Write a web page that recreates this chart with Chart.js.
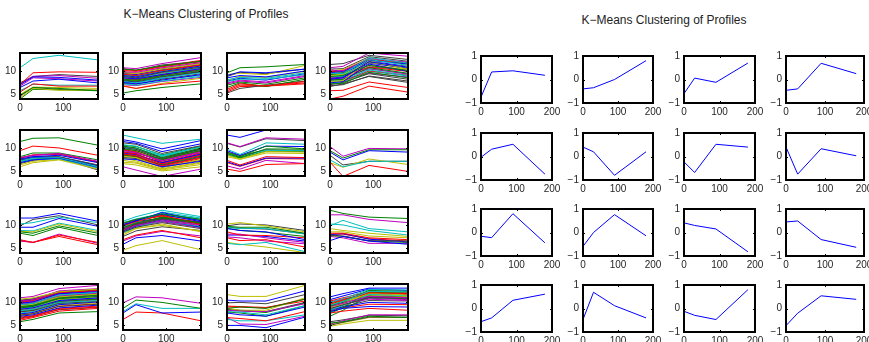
<!DOCTYPE html>
<html>
<head>
<meta charset="utf-8">
<script src="https://cdn.jsdelivr.net/npm/chart.js@4.4.1/dist/chart.umd.min.js"></script>
<style>
  body { margin: 0; background: #fff; width: 869px; height: 342px; position: relative; overflow: hidden; font-family: "Liberation Sans", Arial, sans-serif; }
  canvas { position: absolute; }
  .title { position: absolute; font-size: 12px; color: #222; white-space: nowrap; transform: translateX(-50%); }
</style>
</head>
<body>
<div class="title" style="left:206px;top:7px">K−Means Clustering of Profiles</div>
<div class="title" style="left:664px;top:13px">K−Means Clustering of Profiles</div>
<script>
// sampling times (x values) shared by every profile
const times = [0, 30, 90, 180];

// tick labels
const profileTicksX = [0, 100];
const profileTicksY = [5, 10];
const centroidTicksX = [0, 100, 200];
const centroidTicksY = [-1, 0, 1];

// left panel: expression profiles per cluster, one row per gene (t = 0, 30, 90, 180)
const cluster1 = [
  [7.1,8.8,8.7,8.1],[4.8,6.5,6.3,5.8],[7.1,9.7,9.9,9.8],[10.8,12.8,13.5,12.5],[7.3,8.9,9.1,8.5],
  [4.3,6.3,5.9,6.0],[7.5,8.9,9.3,8.9],[6.5,7.9,8.3,7.5],[4.0,6.1,6.0,5.8],[5.5,7.3,6.8,6.8],
  [5.8,7.2,7.0,7.0],[6.8,8.6,8.4,7.9],[5.0,6.6,6.5,6.3],[4.6,6.5,6.1,5.9]
];
const cluster2 = [
  [8.6,8.4,9.3,10.6],[5.3,5.8,6.5,7.3],[6.8,6.3,7.2,7.9],[7.3,7.0,7.9,8.9],[10.8,10.6,11.7,13.0],
  [6.9,6.3,7.4,8.5],[8.9,8.6,9.8,10.9],[7.6,7.3,8.1,9.3],[10.5,10.3,11.2,12.2],[9.4,9.1,10.2,11.4],
  [7.8,7.5,8.6,9.7],[9.9,9.8,10.8,11.9],[9.7,9.5,10.5,11.6],[8.0,7.7,8.8,9.9],[9.1,8.8,9.9,11.2],
  [8.3,8.1,9.1,10.3],[10.2,10.0,11.0,12.1],[8.8,8.5,9.6,10.7],[7.1,6.9,7.8,8.7],[10.0,9.6,10.7,11.8],
  [7.4,7.2,8.3,9.5],[9.6,9.3,10.4,11.6],[8.1,7.9,8.9,10.0],[8.7,8.3,9.4,10.4],[9.2,9.0,10.0,11.0],
  [8.4,8.2,9.2,10.1],[8.9,8.7,9.6,10.8],[9.8,9.5,10.6,11.3],[7.9,7.7,8.6,9.9],[9.3,9.0,10.1,11.5],
  [10.4,10.2,11.1,12.4],[7.5,7.6,8.4,9.1],[9.5,9.4,10.3,11.4],[8.2,8.0,9.0,10.5],[10.6,10.2,11.4,12.2]
];
const cluster3 = [
  [9.1,9.9,9.7,10.5],[9.7,10.8,11.0,11.5],[6.1,7.3,6.8,7.8],[7.8,8.3,8.3,9.3],[7.5,8.1,7.7,9.1],
  [9.3,9.6,9.3,11.3],[8.9,9.8,9.5,10.5],[8.6,9.1,8.8,10.1],[6.5,7.5,6.7,8.3],[5.8,7.0,6.9,7.5],
  [8.2,8.7,8.5,9.7],[7.3,7.9,7.5,8.9],[8.0,8.9,8.7,10.0],[5.3,6.3,7.0,7.9],[7.9,8.5,8.1,9.5],
  [7.0,7.7,7.2,8.6],[5.5,6.7,6.8,7.3]
];
const cluster4 = [
  [8.3,8.6,12.1,10.9],[8.9,9.1,11.3,10.2],[4.0,4.6,6.8,5.5],[9.6,9.5,13.0,11.8],[10.8,11.1,14.0,13.3],
  [7.8,8.0,12.3,10.5],[11.5,11.7,13.5,12.6],[7.5,7.8,11.6,10.0],[8.1,8.3,10.8,9.6],[5.8,5.9,7.7,6.5],
  [8.8,9.0,12.6,11.3],[10.3,10.1,12.8,12.0],[9.1,9.4,11.9,11.0],[6.9,7.1,9.0,7.9],[9.7,10.0,12.4,11.6],
  [7.3,7.4,9.8,8.6],[9.9,10.2,12.6,11.9],[7.9,8.1,10.3,9.1],[8.6,8.5,10.6,9.4],[10.1,10.4,12.9,11.4],
  [7.1,7.6,9.5,8.3],[8.5,8.8,11.8,10.7],[9.4,9.2,12.0,10.6],[8.0,7.9,10.1,9.2],[7.6,7.7,10.0,9.0],
  [8.2,8.2,9.6,8.8],[9.0,8.9,11.5,10.4],[10.5,10.6,13.2,12.2],[9.3,9.6,12.2,11.1],[10.0,9.8,12.5,11.7],
  [8.7,9.0,10.9,10.0],[7.7,7.9,10.5,9.5],[8.4,8.7,11.0,10.3],[9.5,9.7,11.2,10.1],[6.7,7.3,8.9,7.6]
];
const cluster5 = [
  [7.7,8.2,8.5,6.9],[11.5,12.2,12.3,10.7],[9.5,10.5,10.1,8.5],[7.2,7.9,8.0,6.0],[8.0,8.5,8.9,7.2],
  [6.0,6.9,7.5,5.5],[7.5,8.2,8.2,6.4],[6.9,7.5,7.9,5.9],[8.2,9.0,9.0,7.5],[7.9,8.6,8.8,7.0],
  [7.0,7.6,7.7,5.7],[7.9,8.5,8.7,7.1],[6.4,7.2,7.6,5.8],[6.7,7.4,7.9,5.3],[7.4,8.0,8.1,6.3],
  [7.1,7.7,7.9,6.2]
];
const cluster6 = [
  [11.9,11.4,9.9,11.7],[10.5,10.1,8.0,10.1],[9.2,8.8,6.6,8.5],[12.9,12.3,11.1,12.0],[6.0,5.3,3.9,5.5],
  [6.7,6.4,5.1,6.0],[11.2,10.9,8.9,10.6],[7.7,7.6,6.0,7.2],[9.9,9.5,7.6,9.6],[8.8,8.4,6.2,8.0],
  [10.8,10.5,8.5,10.3],[9.5,9.1,7.3,9.3],[8.3,8.0,5.9,7.6],[10.2,9.8,7.8,9.8],[9.0,8.7,6.9,8.8],
  [8.6,8.2,6.4,8.3],[9.7,9.3,7.0,9.0],[10.0,9.8,8.2,10.4],[9.3,9.0,7.4,9.1],[7.4,7.0,5.5,6.8],
  [8.0,7.8,5.9,7.4],[11.5,11.1,9.3,11.0],[9.1,8.9,7.7,9.9],[8.5,8.1,6.0,7.8],[10.4,10.0,8.4,9.7],
  [8.9,8.4,6.7,8.6],[7.9,7.3,5.6,7.0],[9.6,9.2,7.2,9.4],[8.4,8.3,6.3,8.1],[10.7,10.4,8.6,10.5],
  [9.8,9.6,7.5,9.5],[8.2,7.9,6.5,8.4],[10.3,10.0,7.9,10.0],[7.0,6.8,5.3,6.5],[8.7,8.6,6.8,8.7]
];
const cluster7 = [
  [12.9,12.4,14.0,13.9],[9.1,8.2,10.5,9.9],[7.4,6.4,8.2,8.0],[9.8,8.7,11.2,10.9],[11.2,10.4,12.3,12.0],
  [8.5,7.7,9.3,9.2],[11.1,10.3,12.1,11.7],[9.5,8.5,10.5,10.4],[8.9,8.0,9.9,9.8],[5.5,5.0,6.5,6.7],
  [8.7,8.1,9.6,9.5],[6.2,5.5,7.4,6.7],[8.2,7.6,9.0,8.9],[9.2,8.4,9.7,9.5],[7.1,6.2,7.9,7.9],
  [8.6,7.9,9.4,9.3],[6.9,6.1,7.8,7.7]
];
const cluster8 = [
  [9.2,7.5,9.5,9.2],[9.5,7.9,9.7,9.7],[7.0,3.9,6.3,5.0],[7.5,6.0,7.2,7.2],[10.4,8.3,10.0,9.9],
  [6.9,5.9,7.7,6.5],[8.5,6.4,7.2,7.2]
];
const cluster9 = [
  [11.6,11.6,12.6,10.9],[8.6,8.3,9.9,8.3],[6.9,6.3,7.9,6.3],[10.3,10.6,11.8,10.6],[6.7,6.3,8.1,6.1],
  [8.7,8.6,10.3,8.6],[9.9,11.3,12.1,10.1],[9.6,9.6,11.5,9.8],[8.3,7.8,9.6,7.8],[6.6,6.3,7.6,5.8],
  [8.9,8.8,10.5,8.9]
];
const cluster10 = [
  [5.9,7.3,7.8,6.6],[10.5,11.3,12.5,11.3],[6.9,7.9,8.9,7.3],[10.9,11.9,13.3,11.9],[6.6,7.7,8.7,7.7],
  [4.6,5.6,6.7,4.7],[8.6,9.6,10.6,9.3],[10.2,11.0,12.8,11.0],[9.5,10.5,11.8,10.5],[9.9,10.8,12.2,10.2],
  [9.7,10.6,12.9,11.6],[9.0,10.0,11.0,10.0],[7.9,9.3,10.3,8.6],[9.2,10.2,11.4,10.3],[9.8,11.1,12.4,10.8],
  [8.9,10.1,11.6,10.6],[10.4,11.2,12.0,10.6],[8.4,9.6,11.0,9.8],[9.4,10.6,11.3,10.1],[8.2,9.4,10.0,8.8],
  [9.6,10.4,11.7,10.4],[8.8,9.9,11.2,9.6],[10.1,11.0,12.2,11.1],[9.1,10.3,11.8,10.7],[10.6,11.4,12.6,11.4],
  [8.5,9.8,10.8,9.5],[9.3,10.4,11.1,9.9],[7.6,8.8,9.7,8.9],[10.0,10.9,11.5,10.5],[9.0,10.2,10.9,9.7]
];
const cluster11 = [
  [9.3,8.9,8.6,6.9],[9.8,9.6,9.6,8.3],[8.6,7.9,7.8,7.3],[9.6,9.3,9.3,8.1],[8.1,8.1,7.3,6.3],
  [10.3,10.6,9.9,8.6],[9.9,10.3,10.1,8.9],[7.9,7.9,7.6,6.6],[9.4,8.9,8.5,7.6],[7.3,6.7,6.9,5.3],
  [6.1,5.8,6.3,4.3],[7.5,7.3,6.6,6.0],[6.3,5.9,5.3,4.1],[9.6,9.4,9.2,8.2]
];
const cluster12 = [
  [6.7,7.6,6.6,5.9],[13.3,12.6,11.8,11.5],[8.3,8.3,7.3,6.9],[9.9,11.1,9.3,8.6],[12.3,12.3,11.3,10.6],
  [8.6,8.6,7.7,7.3],[7.9,7.7,6.7,6.6],[8.0,8.2,7.0,6.4],[7.8,7.6,6.6,6.3],[8.1,8.1,7.1,6.6],
  [10.3,10.1,8.9,7.9],[7.6,7.3,6.1,6.1],[9.3,8.9,8.3,7.6]
];
const cluster13 = [
  [8.5,8.8,10.4,11.0],[5.8,6.3,7.7,8.0],[6.1,6.7,8.1,8.7],[9.5,9.8,11.6,12.2],[11.0,11.3,13.0,13.7],
  [10.7,11.0,12.3,12.9],[7.2,7.5,9.1,9.6],[9.8,10.1,11.9,12.3],[8.8,9.1,10.8,11.3],[6.4,6.9,8.5,9.0],
  [8.2,8.5,10.0,10.4],[10.3,10.6,12.5,13.0],[9.3,9.6,11.2,11.8],[8.0,8.2,9.8,10.2],[7.5,7.8,9.5,10.1],
  [9.0,9.3,11.0,11.6],[10.0,10.4,12.1,12.6],[7.7,8.0,9.7,10.3],[9.6,9.9,11.4,12.0],[8.4,8.7,10.6,11.2],
  [10.5,10.8,12.2,12.7],[7.0,7.3,8.8,9.4],[9.1,9.4,11.3,11.9],[6.8,7.1,8.7,9.2],[8.7,9.0,10.5,11.0],
  [9.9,10.2,11.8,12.4],[7.4,7.7,9.4,9.9],[8.9,9.2,10.9,11.5],[10.2,10.5,12.0,12.5],[8.1,8.4,10.2,10.7],
  [7.9,8.3,9.9,10.6],[10.1,10.3,11.7,12.1],[8.6,8.9,10.3,10.9],[9.7,10.0,11.5,12.1],[6.6,7.0,8.4,8.9],
  [9.4,9.7,11.1,11.7],[10.4,10.7,12.4,12.8],[7.3,7.6,9.2,9.7],[9.2,9.5,11.4,12.0],[8.3,8.6,10.1,10.8]
];
const cluster14 = [
  [7.7,9.5,7.7,7.9],[8.7,10.5,10.0,8.7],[6.3,7.9,7.7,6.0],[8.0,9.7,8.7,8.7],[9.9,11.2,11.0,9.8]
];
const cluster15 = [
  [10.5,10.3,10.3,12.5],[8.7,9.0,8.7,10.7],[9.0,9.0,8.8,10.7],[8.0,7.9,7.3,9.3],[8.3,8.1,8.0,9.7],
  [11.7,11.3,11.3,13.7],[9.9,10.0,9.7,11.7],[7.7,7.3,7.0,9.0],[7.9,7.7,7.0,9.3],[6.7,6.5,6.0,8.0],
  [6.3,6.0,6.0,7.3],[6.7,5.3,5.2,7.0],[8.7,8.3,8.3,11.0],[8.5,8.3,8.0,10.0],[5.0,5.0,4.5,6.8],
  [8.4,8.2,7.8,9.9],[9.2,9.1,8.9,10.3]
];
const cluster16 = [
  [11.2,11.9,13.1,13.1],[5.5,5.8,7.0,6.7],[7.7,8.1,8.7,8.3],[9.4,10.2,12.4,12.3],[5.3,6.0,7.3,7.3],
  [4.8,5.3,6.1,6.1],[5.0,5.7,6.8,6.8],[8.0,8.7,9.1,9.0],[9.2,10.2,12.6,12.4],[9.6,10.5,12.1,11.9],
  [10.0,10.8,12.8,12.7],[9.1,9.8,11.3,11.0],[8.9,9.7,12.0,11.6],[8.6,9.5,11.0,10.8],[10.6,11.4,12.9,12.6],
  [7.6,8.9,12.2,12.0],[10.3,11.0,12.3,12.2],[8.3,9.3,11.7,11.5],[8.8,9.6,10.7,10.4],[9.7,10.4,11.6,11.3],
  [9.3,10.0,11.2,10.9],[8.4,9.0,10.0,9.8],[7.0,8.3,11.5,11.2],[9.9,10.7,11.9,11.7],[9.0,9.9,11.8,11.8],
  [10.1,10.7,11.4,11.2],[9.5,10.1,11.9,12.1],[8.2,9.1,10.4,10.3],[9.8,10.6,12.0,11.9],[8.7,9.4,11.1,11.0],
  [8.1,8.8,9.6,9.5],[7.9,8.7,11.0,10.9],[9.6,10.3,10.9,10.6],[5.2,5.6,6.7,6.7],[5.8,6.2,7.2,7.1]
];
const clusters = [cluster1, cluster2, cluster3, cluster4, cluster5, cluster6, cluster7, cluster8,
                  cluster9, cluster10, cluster11, cluster12, cluster13, cluster14, cluster15, cluster16];

// right panel: cluster centroids (t = 0, 30, 90, 180)
const centroids = [
  [-0.75, 0.32, 0.37, 0.18], [-0.40, -0.35, 0.00, 0.80], [-0.60, 0.06, -0.12, 0.70], [-0.46, -0.40, 0.69, 0.25],
  [-0.03, 0.31, 0.52, -0.75], [0.40, 0.20, -0.80, 0.20], [-0.23, -0.68, 0.52, 0.40], [0.40, -0.75, 0.33, 0.03],
  [-0.16, -0.22, 0.80, -0.44], [-0.59, 0.00, 0.76, -0.14], [0.41, 0.30, 0.15, -0.82], [0.45, 0.49, -0.30, -0.63],
  [-0.56, -0.40, 0.35, 0.61], [-0.47, 0.69, 0.12, -0.40], [-0.12, -0.29, -0.47, 0.80], [-0.73, -0.20, 0.54, 0.39]
];

const matlabColors = ['#0000ff', '#008000', '#ff0000', '#00bfbf', '#bf00bf', '#bfbf00', '#404040'];

// box around each axes plus small inward ticks, like matlab
const frame = {
  id: 'frame',
  afterDraw(chart) {
    const { ctx, chartArea: a, scales } = chart;
    ctx.save();
    ctx.strokeStyle = '#000';
    ctx.lineWidth = 1;
    ctx.beginPath();
    scales.y.ticks.forEach(t => {
      const p = Math.round(scales.y.getPixelForValue(t.value)) + 0.5;
      ctx.moveTo(a.left, p); ctx.lineTo(a.left + 2, p);
      ctx.moveTo(a.right, p); ctx.lineTo(a.right - 2, p);
    });
    scales.x.ticks.forEach(t => {
      const p = Math.round(scales.x.getPixelForValue(t.value)) + 0.5;
      ctx.moveTo(p, a.top); ctx.lineTo(p, a.top + 2);
      ctx.moveTo(p, a.bottom); ctx.lineTo(p, a.bottom - 2);
    });
    ctx.stroke();
    ctx.lineWidth = 2;
    ctx.strokeRect(a.left, a.top, a.right - a.left, a.bottom - a.top);
    ctx.restore();
  }
};

const tickFont = { family: 'Liberation Sans', size: 10 };
const fmt = v => String(v).replace('-', '\u2212');

function subplot(left, top, w, h, series, colorFor, xMax, yMin, yMax, xTicks, yTicks) {
  const padL = 24, padT = 6, padR = 14, padB = 16;
  const cv = document.createElement('canvas');
  cv.width = padL + w + padR;
  cv.height = padT + h + padB;
  cv.style.left = (left - padL) + 'px';
  cv.style.top = (top - padT) + 'px';
  document.body.appendChild(cv);
  new Chart(cv.getContext('2d'), {
    type: 'line',
    data: {
      datasets: series.map((vals, i) => ({
        data: vals.map((v, j) => ({ x: times[j], y: v })),
        borderColor: colorFor(i),
        borderWidth: 1,
        pointRadius: 0,
        tension: 0,
        fill: false
      }))
    },
    options: {
      responsive: false,
      animation: false,
      events: [],
      layout: { autoPadding: false, padding: { top: padT, right: padR, left: 0, bottom: 0 } },
      plugins: { legend: { display: false }, tooltip: { enabled: false } },
      scales: {
        x: {
          type: 'linear', min: 0, max: xMax,
          afterBuildTicks: s => { s.ticks = xTicks.map(v => ({ value: v })); },
          afterFit: s => { s.height = padB; },
          grid: { display: false, drawTicks: false },
          border: { display: false },
          ticks: { padding: 3, color: '#262626', font: tickFont, maxRotation: 0, autoSkip: false, callback: fmt }
        },
        y: {
          type: 'linear', min: yMin, max: yMax,
          afterBuildTicks: s => { s.ticks = yTicks.map(v => ({ value: v })); },
          afterFit: s => { s.width = padL; },
          grid: { display: false, drawTicks: false },
          border: { display: false },
          ticks: { padding: 4, color: '#262626', font: tickFont, autoSkip: false, callback: fmt }
        }
      }
    },
    plugins: [frame]
  });
}

// left panel grid
const leftCols = [20, 123, 227, 330];
const leftRows = [49, 126, 203, 280];
clusters.forEach((c, k) => {
  const r = Math.floor(k / 4), col = k % 4;
  subplot(leftCols[col], leftRows[r], 78, 50, c, i => matlabColors[i % 7],
          180, 4, 14, profileTicksX, profileTicksY);
});

// right panel grid
const rightCols = [481, 583, 684, 786];
const rightWidths = [71, 70, 71, 78];
const rightRows = [52, 129, 205, 281];
centroids.forEach((c, k) => {
  const r = Math.floor(k / 4), col = k % 4;
  subplot(rightCols[col], rightRows[r], rightWidths[col], 51, [c], () => '#0000ff',
          200, -1, 1, centroidTicksX, centroidTicksY);
});
</script>
</body>
</html>
